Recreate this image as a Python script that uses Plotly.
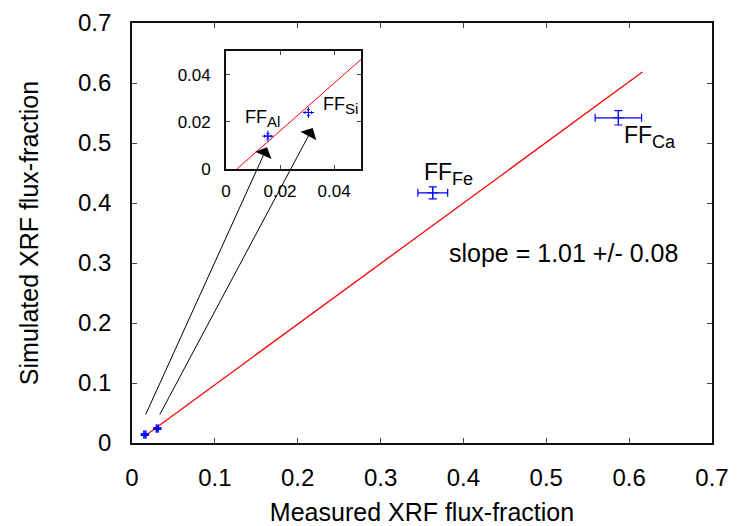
import plotly.graph_objects as go

# Data
elements = ["Al", "Si", "Fe", "Ca"]
measured = [0.0155, 0.0305, 0.363, 0.587]
measured_err = [0.0012, 0.0012, 0.018, 0.028]
simulated = [0.014, 0.024, 0.417, 0.542]
simulated_err = [0.0012, 0.0012, 0.010, 0.012]

fit_slope = 1.01
fit_intercept = -0.004
fit_x = [0.0155, 0.616]
fit_y = [fit_slope * v + fit_intercept for v in fit_x]
inset_fit_x = [0.004, 0.05]
inset_fit_y = [fit_slope * v + fit_intercept for v in inset_fit_x]

main_ticks = [0, 0.1, 0.2, 0.3, 0.4, 0.5, 0.6, 0.7]
main_ticklabels = ["0", "0.1", "0.2", "0.3", "0.4", "0.5", "0.6", "0.7"]
inset_ticks = [0, 0.02, 0.04]
inset_ticklabels = ["0", "0.02", "0.04"]

FONT = "Liberation Sans, Arial, Helvetica, sans-serif"
BLUE = "#0000ff"
RED = "#ff0000"

fig = go.Figure()

# main plot fit line
fig.add_trace(go.Scatter(x=fit_x, y=fit_y, mode="lines",
                         line=dict(color=RED, width=1.3), showlegend=False,
                         xaxis="x", yaxis="y"))
# main plot points
fig.add_trace(go.Scatter(
    x=measured, y=simulated, mode="markers",
    marker=dict(symbol="cross-thin", size=[6, 6, 8, 8],
                line=dict(color=BLUE, width=[3, 3, 1.2, 1.2]), color=BLUE),
    error_x=dict(type="data", array=measured_err, color=BLUE, thickness=1.2, width=4),
    error_y=dict(type="data", array=simulated_err, color=BLUE, thickness=1.2, width=4),
    showlegend=False, xaxis="x", yaxis="y"))

# inset fit line
fig.add_trace(go.Scatter(x=inset_fit_x, y=inset_fit_y, mode="lines",
                         line=dict(color=RED, width=1), showlegend=False,
                         xaxis="x2", yaxis="y2"))
# inset points (Al, Si)
fig.add_trace(go.Scatter(
    x=measured[:2], y=simulated[:2], mode="markers",
    marker=dict(symbol="cross-thin", size=8, line=dict(color=BLUE, width=1), color=BLUE),
    error_x=dict(type="data", array=measured_err[:2], color=BLUE, thickness=1, width=1.5),
    error_y=dict(type="data", array=simulated_err[:2], color=BLUE, thickness=1, width=1.5),
    showlegend=False, xaxis="x2", yaxis="y2"))

axis_common = dict(showline=True, linecolor="#111", linewidth=1.6, mirror="ticks",
                   ticks="inside", ticklen=5, tickwidth=1, tickcolor="#444",
                   showgrid=False, zeroline=False, automargin=False,
                   tickfont=dict(family=FONT, size=24, color="black"))
inset_common = {**axis_common, "tickfont": dict(family=FONT, size=17, color="black"),
                "ticklen": 4}

fig.update_layout(
    # the page body adds an 8px margin; shrink the figure so it fits the window
    width=731, height=518,
    margin=dict(l=124, r=27, t=15, b=83),
    plot_bgcolor="white", paper_bgcolor="white",
    font=dict(family=FONT, color="black"),
    xaxis=dict(range=[0, 0.7], tickvals=main_ticks, ticktext=main_ticklabels,
               domain=[0, 1], anchor="y", ticklabelstandoff=12,
               title=dict(text="Measured XRF flux-fraction",
                          font=dict(family=FONT, size=25, color="black"), standoff=14),
               **axis_common),
    yaxis=dict(range=[0, 0.7], tickvals=main_ticks, ticktext=main_ticklabels,
               domain=[0, 1], anchor="x", ticklabelstandoff=14,
               title=dict(text="Simulated XRF flux-fraction",
                          font=dict(family=FONT, size=25, color="black"), standoff=32),
               **axis_common),
    xaxis2=dict(range=[0, 0.05], tickvals=inset_ticks, ticktext=inset_ticklabels,
                domain=[0.162, 0.395], anchor="y2", ticklabelstandoff=6,
                **inset_common),
    yaxis2=dict(range=[0, 0.05], tickvals=inset_ticks, ticktext=inset_ticklabels,
                domain=[0.652, 0.933], anchor="x2", ticklabelstandoff=10,
                **inset_common),
)


def ff(sub, main_size, sub_size):
    return ("<span style='font-size:%dpx'>FF</span><sub><span style='font-size:%dpx'>%s</span></sub>"
            % (main_size, sub_size, sub))


annotations = [
    dict(x=0.35, y=0.449, xref="x", yref="y", xanchor="left", text=ff("Fe", 23, 18),
         showarrow=False, font=dict(family=FONT, size=23, color="black")),
    dict(x=0.591, y=0.510, xref="x", yref="y", xanchor="left", text=ff("Ca", 23, 18),
         showarrow=False, font=dict(family=FONT, size=23, color="black")),
    dict(x=0.38, y=0.317, xref="x", yref="y", xanchor="left", text="slope = 1.01 +/- 0.08",
         showarrow=False, font=dict(family=FONT, size=25, color="black")),
    dict(x=0.0062, y=0.0215, xref="x2", yref="y2", xanchor="left", text=ff("Al", 18, 15),
         showarrow=False, font=dict(family=FONT, size=18, color="black")),
    dict(x=0.0353, y=0.0270, xref="x2", yref="y2", xanchor="left", text=ff("Si", 18, 15),
         showarrow=False, font=dict(family=FONT, size=18, color="black")),
    # arrows from main points up to the inset
    dict(x=0.163, y=0.493, ax=0.0157, ay=0.045, xref="x", yref="y", axref="x", ayref="y",
         text="", showarrow=True, arrowhead=1, arrowsize=3, arrowwidth=1, arrowcolor="black"),
    dict(x=0.218, y=0.525, ax=0.0326, ay=0.045, xref="x", yref="y", axref="x", ayref="y",
         text="", showarrow=True, arrowhead=1, arrowsize=3, arrowwidth=1, arrowcolor="black"),
]
fig.update_layout(annotations=annotations)

fig.write_html("out.html")
